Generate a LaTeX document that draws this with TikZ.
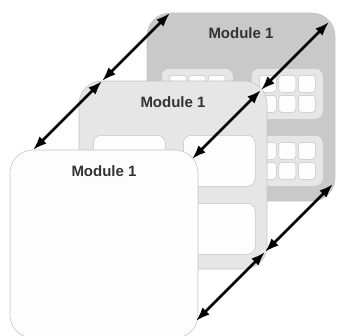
\documentclass[tikz,border=0pt]{standalone}
\usepackage{fontspec}
\setmainfont{Liberation Sans}
\usetikzlibrary{arrows.meta, calc}

\definecolor{layerdark}{HTML}{C9C9C9}
\definecolor{layermid}{HTML}{E6E6E6}
\definecolor{layerfront}{HTML}{FDFDFD}
\definecolor{edgegray}{HTML}{C4C4C4}
\definecolor{titlegray}{HTML}{333333}

\begin{document}
\begin{tikzpicture}[
    x=1pt, y=-1pt,
    layer/.style={
      rectangle, rounded corners=23pt,
      draw=edgegray, line width=0.6pt,
      anchor=north west, inner sep=0pt, outer sep=0pt,
      minimum width=188pt, minimum height=188pt},
    title/.style={font=\bfseries\fontsize{15}{18}\selectfont, text=titlegray},
    group/.style={
      rectangle, rounded corners=8pt,
      fill=layermid, draw=edgegray, line width=0.5pt,
      anchor=north west, inner sep=0pt,
      minimum width=72pt, minimum height=51pt},
    cell/.style={
      rectangle, rounded corners=3pt,
      fill=layerfront, draw=edgegray, line width=0.5pt,
      inner sep=0pt, minimum size=17pt},
    panel/.style={group, fill=layerfront},
    tip/.tip={Latex[length=14pt,width=10pt]},
    link/.style={tip-tip, line width=2.8pt, draw=black}
  ]
  \useasboundingbox (0,0) rectangle (337,335);

  % back layer with its four groups of cells
  \node[layer, fill=layerdark] (back) at (147,13) {};
  \node[title] (back title) at ($(back.north)+(0,20)$) {Module 1};
  \foreach \g/\dx/\dy in {a/14/55, b/104/55, c/14/122, d/104/122} {
    \node[group] (back \g) at ($(back.north west)+(\dx,\dy)$) {};
    \foreach \i in {1,2,3}
      \foreach \j in {1,2}
        \node[cell] (back \g\i\j) at ($(back \g.center)+({(\i-2)*19.5},{(\j-1.5)*20})$) {};
  }

  % middle layer
  \node[layer, fill=layermid] (middle) at (79,81) {};
  \node[title] (middle title) at ($(middle.north)+(0,21)$) {Module 1};
  \foreach \g/\dx/\dy in {a/14/54, b/104/54, c/14/122, d/104/122}
    \node[panel] (middle \g) at ($(middle.north west)+(\dx,\dy)$) {};

  % front layer
  \node[layer, fill=layerfront] (front) at (10,150) {};
  \node[title] (front title) at ($(front.north)+(0,21)$) {Module 1};

  % points on each layer where the arrows meet
  \foreach \l in {front, middle, back} {
    \coordinate (\l\space tl) at ($(\l.north west)+(23,0)$);
    \coordinate (\l\space tr) at ($(\l.north east)+(-6,9)$);
    \coordinate (\l\space br) at ($(\l.south east)+(-2,-17)$);
  }

  \draw[link] (front tl) -- (middle tl);
  \draw[link] (middle tl) -- (back tl);
  \draw[link] (front tr) -- (middle tr);
  \draw[link] (middle tr) -- (back tr);
  \draw[link] (front br) -- (middle br);
  \draw[link] (middle br) -- (back br);
\end{tikzpicture}
\end{document}
